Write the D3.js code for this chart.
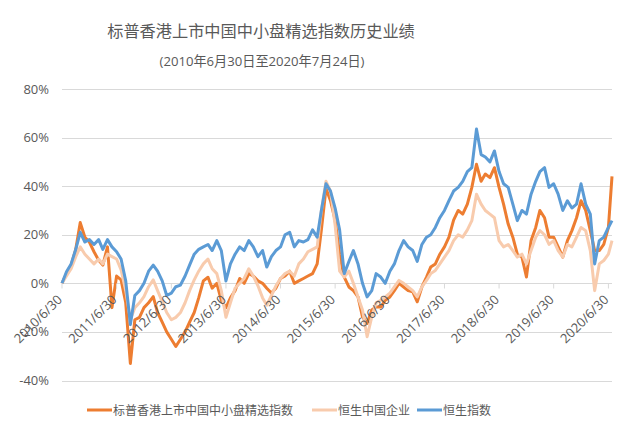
<!DOCTYPE html>
<html>
<head>
<meta charset="utf-8">
<title></title>
<style>
body { margin: 0; background: #fff; }
text { font-family: "Open Sans", "Noto Sans CJK SC", sans-serif; fill: #595959; }
.grid line { stroke: #d9d9d9; stroke-width: 1px; }
path.series { fill: none; stroke-width: 3px; stroke-linejoin: round; }
</style>
</head>
<body>
<script src="https://cdn.jsdelivr.net/npm/d3@7/dist/d3.min.js"></script>
<script>

// month-end points from 2010/6/30, last point 2020/7/24
var startDate = new Date(2010, 5, 30),
    endDate = new Date(2020, 6, 24);

var seriesNames = ["标普香港上市中国中小盘精选指数", "恒生中国企业", "恒生指数"];
var seriesColors = ["#ed7d31", "#f8cbad", "#5b9bd5"];

// 标普香港上市中国中小盘精选指数 (%)
var spSmallMid = [0, 4, 7.5, 14, 25, 19, 17, 13, 9.5, 7.5, 15, -10, 3, 1.4, -8, -33, -15, -14, -10, -8,
  -5.5, -12, -16, -20, -23, -26, -23, -20, -16, -12, -6, 1, 2.5, -2, 0, -7, -10, -6, -3, 2,
  0, 4, 3, 1, 0, -2, -4, -2, 2, 3, 5, 0, 1, 2, 3, 4, 8, 22, 39, 34,
  26, 12, 2.6, -1.5, -3, -5.6, -13.8, -16.5, -11, -9.7, -9.7, -7, -5.6, -3, 0, -1.5, -3, -3.5, -7.6, -1.5,
  2.6, 6.7, 8, 12, 15, 19, 26, 30, 28.5, 32.6, 39.5, 49, 42, 45, 43.5, 47.6, 39.5, 32.6, 24.4, 19,
  12, 10.8, 2.6, 17.6, 23, 30, 27, 19, 19, 15, 10.8, 17.6, 21.7, 27, 34, 30, 21.7, 13.5, 13.5, 16,
  23, 44];

// 恒生中国企业 (%)
var hscei = [0, 3, 6, 11, 15, 12, 10, 8, 10, 8, 12, 11, 10, 5.5, -3, -15, -10, -8, -5.5, -1.4,
  1.4, -3, -7.5, -12, -15, -14, -12, -8, -3, 1.4, 5, 8, 10, 6, 4, -3, -14, -8, -2, 0,
  2, 6, 3, -1, -6, -9, -5, -1, 2, 4, 5, 3, 8, 10, 13, 14, 15, 30, 42, 38,
  24, 5, 2.6, 5, 0, -5.6, -11, -22, -13.8, -8, -7, -5.6, -4, -1.5, 1.2, 0, -1.5, -3, -5.6, -1.5,
  1.2, 4, 5.3, 8, 10.8, 13.5, 17.6, 20, 19, 22, 25.8, 36.7, 32.6, 30, 28.5, 27, 17.6, 15, 16, 13.5,
  10.8, 12, 8, 13.5, 19, 21.7, 20, 16, 17.6, 13.5, 10.8, 16, 15, 19, 23, 21.7, 13.5, -3, 8, 9.4,
  12, 17.6];

// 恒生指数 (%)
var hsi = [0, 4.8, 8, 14, 21, 17, 18, 16, 18, 14, 18, 15, 13, 10, 1, -17, -5, -3, 0, 5,
  7.5, 5, 1, -5, -4, -1.4, -0.7, 3, 7.5, 12, 14, 15, 16, 13.5, 17.6, 13.5, 1, 8, 12, 15,
  13.5, 17.6, 15, 11, 13.5, 6.7, 11, 13.5, 15, 20, 21, 15, 17.6, 17, 18, 22, 19, 30, 41, 38,
  31, 22, 4, 9, 13.5, 8, 0, -5.6, -3, 4, 2.6, 0, 5, 8, 13.5, 17.6, 15, 13.5, 9, 16,
  19, 20, 23, 27, 30, 34, 38, 39.5, 42, 46, 47.6, 63.5, 53, 52, 50, 54.5, 46, 41, 39.5, 32.6,
  25.8, 30, 28.5, 36.7, 42, 46, 47.6, 39.5, 41, 36.7, 30, 34, 31, 32.6, 41, 32.6, 28.5, 8, 17.6, 19,
  23, 25.8];

var yTicks = [-40, -20, 0, 20, 40, 60, 80];
var xTickLabels = ["2010/6/30", "2011/6/30", "2012/6/30", "2013/6/30", "2014/6/30", "2015/6/30",
  "2016/6/30", "2017/6/30", "2018/6/30", "2019/6/30", "2020/6/30"];

var width = 640,
    height = 431;

var dates = spSmallMid.map(function(d, i) {
  return i == spSmallMid.length - 1 ? endDate : d3.timeMonth.offset(startDate, i);
});

var parseTick = d3.timeParse("%Y/%m/%d");

var x = d3.scaleTime()
    .domain([startDate, endDate])
    .range([62, 612]);

var y = d3.scaleLinear()
    .domain([-40, 80])
    .range([380.5, 89]);

var svg = d3.select("body").append("svg")
    .attr("width", width)
    .attr("height", height);

svg.append("rect")
    .attr("width", width)
    .attr("height", height)
    .attr("fill", "#fff");

// title, sized to the width it has in the original
function fitText(sel, target, size) {
  var len = sel.node().getComputedTextLength();
  sel.style("font-size", (size * target / len).toFixed(2) + "px");
}

var title = svg.append("text")
    .attr("x", 261)
    .attr("y", 37)
    .attr("text-anchor", "middle")
    .style("font-size", "20px")
    .text("标普香港上市中国中小盘精选指数历史业绩");
fitText(title, 308, 20);

var subtitle = svg.append("text")
    .attr("x", 262)
    .attr("y", 66)
    .attr("text-anchor", "middle")
    .style("font-size", "14px")
    .text("(2010年6月30日至2020年7月24日)");
fitText(subtitle, 205, 14);

// gridlines + y labels
var grid = svg.append("g").attr("class", "grid");
grid.selectAll("line")
    .data(yTicks)
    .enter().append("line")
    .attr("x1", 62)
    .attr("x2", 612)
    .attr("y1", function(d) { return Math.round(y(d)) + 0.5; })
    .attr("y2", function(d) { return Math.round(y(d)) + 0.5; });

svg.append("g").selectAll("text")
    .data(yTicks)
    .enter().append("text")
    .attr("x", 49)
    .attr("y", function(d) { return y(d) + 4.5; })
    .attr("text-anchor", "end")
    .style("font-size", "13px")
    .text(function(d) { return d + "%"; });

// series lines (drawn in legend order)
var allSeries = [spSmallMid, hscei, hsi];
var line = d3.line()
    .x(function(d, i) { return x(dates[i]); })
    .y(function(d) { return y(d); });

svg.append("g").selectAll("path")
    .data(allSeries)
    .enter().append("path")
    .attr("class", "series")
    .attr("stroke", function(d, i) { return seriesColors[i]; })
    .attr("d", line);

// x axis ticks and rotated labels at the 0% line
var y0 = Math.round(y(0)) + 0.5;
svg.append("g").selectAll("line")
    .data(xTickLabels)
    .enter().append("line")
    .attr("x1", function(d) { return x(parseTick(d)); })
    .attr("x2", function(d) { return x(parseTick(d)); })
    .attr("y1", y0)
    .attr("y2", y0 + 5)
    .attr("stroke", "#d9d9d9");

svg.append("g").selectAll("text")
    .data(xTickLabels)
    .enter().append("text")
    .attr("text-anchor", "end")
    .attr("transform", function(d) {
      return "translate(" + (x(parseTick(d)) + 1) + "," + (y0 + 17) + ") rotate(-45)";
    })
    .style("font-size", "13px")
    .text(function(d) { return d; });

// legend
var legendX = [87, 312, 417];
var legend = svg.append("g").selectAll("g")
    .data(seriesNames)
    .enter().append("g")
    .attr("transform", function(d, i) { return "translate(" + legendX[i] + ",410)"; });

legend.append("line")
    .attr("x1", 0)
    .attr("x2", 25)
    .attr("stroke-width", 3)
    .attr("stroke", function(d, i) { return seriesColors[i]; });

legend.append("text")
    .attr("x", 26)
    .attr("y", 4.5)
    .style("font-size", "12px")
    .text(function(d) { return d; });

</script>
</body>
</html>
